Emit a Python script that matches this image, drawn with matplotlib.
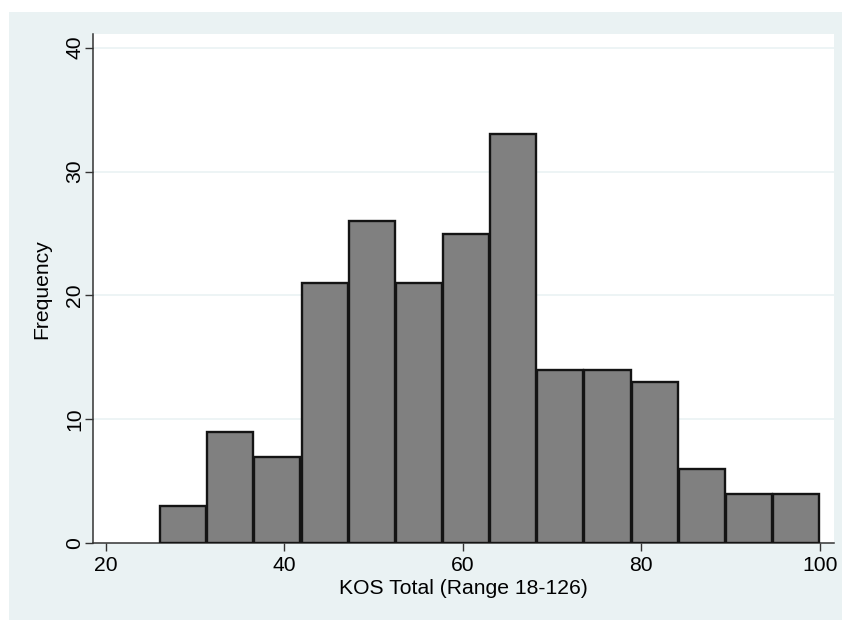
import numpy as np
import matplotlib
matplotlib.use("Agg")
import matplotlib.pyplot as plt

# Data
counts = [3, 9, 7, 21, 26, 21, 25, 33, 14, 14, 13, 6, 4, 4]
bin_start, bin_end = 26, 100
x_ticks = [20, 40, 60, 80, 100]
y_ticks = [0, 10, 20, 30, 40]
x_label = "KOS Total (Range 18-126)"
y_label = "Frequency"

plt.rcParams['font.family'] = ['Liberation Sans', 'DejaVu Sans']
FS = 15.2

fig = plt.figure(figsize=(8.42, 6.2), dpi=100)
fig.patch.set_facecolor('white')

# light blue graph region background
bgax = fig.add_axes([9/842, 0, 1 - 9/842, 1 - 12/620], zorder=0)
bgax.set_facecolor('#EAF2F3')
bgax.set_xticks([]); bgax.set_yticks([])
for s in bgax.spines.values():
    s.set_visible(False)

ax = fig.add_axes([93/842, 1 - 543.3/620, (833.7 - 93)/842, (543.3 - 34)/620], zorder=1)
ax.set_facecolor('white')

edges = np.linspace(bin_start, bin_end, len(counts) + 1)
widths = np.diff(edges)
gap = 0.12
ax.bar(edges[:-1] + gap / 2, counts, width=widths - gap, align='edge', color='#808080',
       edgecolor='#141414', linewidth=1.7, zorder=3)

ax.set_xlim(18.54, 101.57)
ax.set_ylim(0, 41.1)
ax.set_xticks(x_ticks)
ax.set_yticks(y_ticks)
ax.set_yticklabels([str(t) for t in y_ticks], rotation=90, va='center')
ax.tick_params(axis='both', labelsize=FS, length=5.8, width=1, color='#333333',
               direction='out')
ax.tick_params(axis='x', pad=3)
ax.tick_params(axis='y', pad=0.5)
for t in y_ticks[1:]:
    ax.axhline(t, color='#EAF2F3', linewidth=1.2, zorder=1)

for s in ['top', 'right']:
    ax.spines[s].set_visible(False)
for s in ['left', 'bottom']:
    ax.spines[s].set_color('#333333')
    ax.spines[s].set_linewidth(1.1)

ax.set_xlabel(x_label, fontsize=FS, labelpad=3)
ax.set_ylabel(y_label, fontsize=FS, labelpad=10)

fig.savefig("out.png", dpi=100)
